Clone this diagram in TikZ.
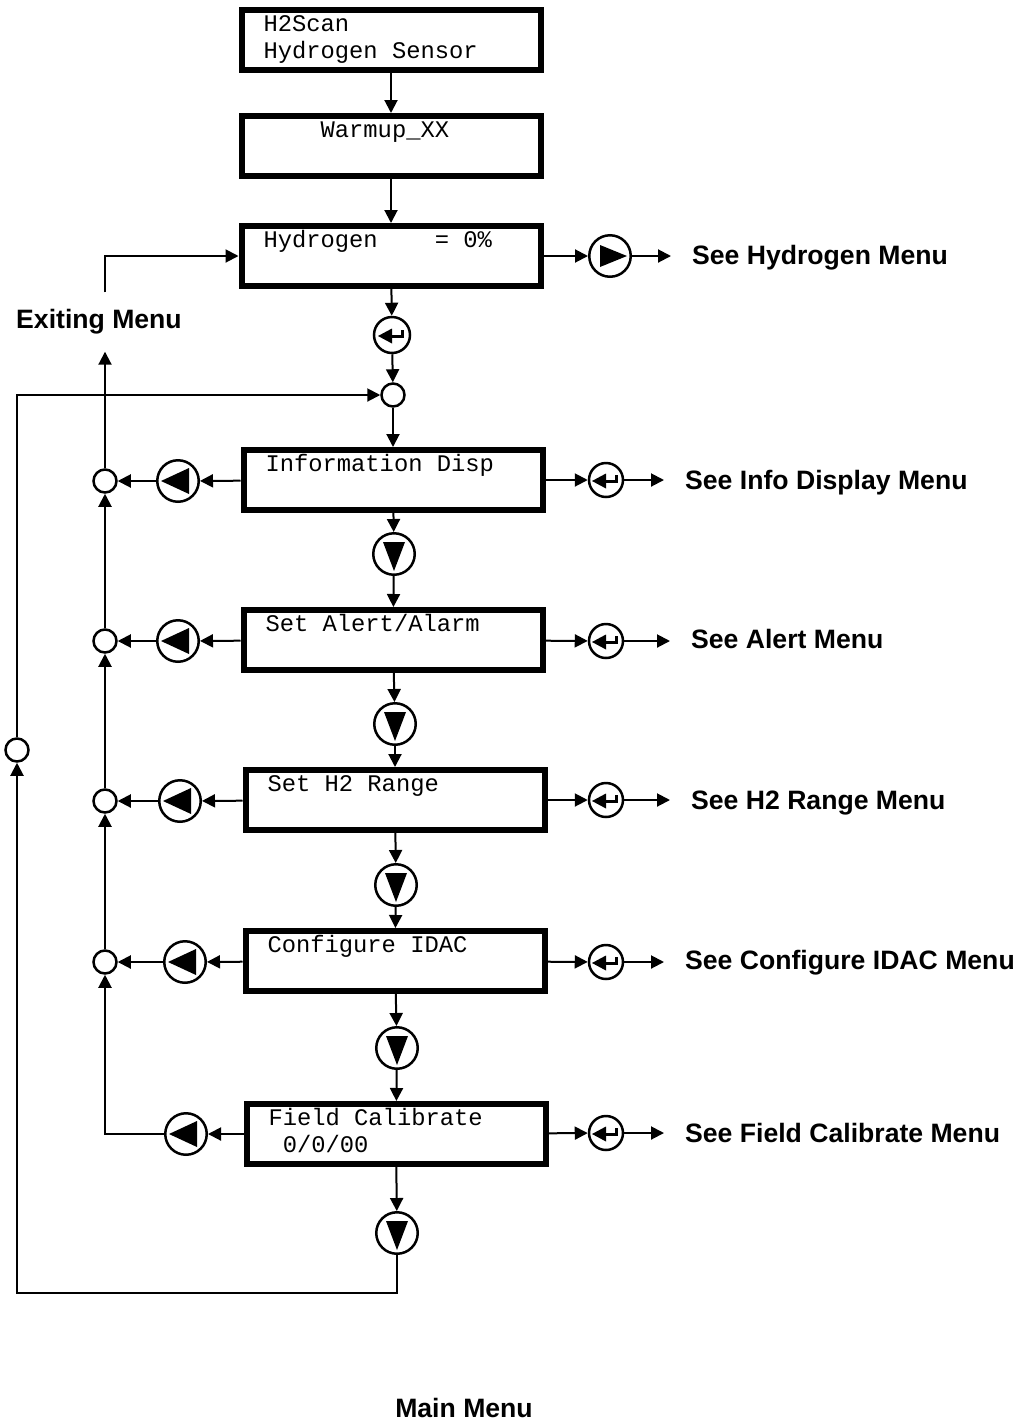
\documentclass[tikz,border=0pt]{standalone}
\usepackage{fontspec}
\usetikzlibrary{arrows.meta}
\newfontfamily\lcdfamily{Liberation Mono}
\newfontfamily\lblfamily{Liberation Sans}
\newcommand{\lcdfont}{\lcdfamily\fontsize{23.8}{27}\selectfont\spaceskip=0.6em\xspaceskip=0.6em\relax}
\newcommand{\lblfont}{\lblfamily\bfseries\fontsize{26.6}{30}\selectfont}

\begin{document}
\begin{tikzpicture}[x=1pt,y=-1pt,
  arr/.style={line width=2pt,-{Triangle[length=13pt,width=13pt]}},
  lcd/.style={draw,line width=6pt,minimum width=299pt,minimum height=60pt,text width=255pt,
    inner xsep=22pt,inner ysep=0pt,align=left,font=\lcdfont,execute at begin node=\lcdfont},
  btn/.style={circle,draw,line width=2.5pt,inner sep=0pt,minimum size=41.5pt},
  junc/.style={btn,minimum size=23pt},
  dnbtn/.style={btn,path picture={\fill[shift={(path picture bounding box.center)}]
    (-11pt,12pt) -- (11pt,12pt) -- (0pt,-17pt) -- cycle;}},
  ltbtn/.style={btn,path picture={\fill[shift={(path picture bounding box.center)}]
    (-17pt,0pt) -- (11pt,13pt) -- (11pt,-13pt) -- cycle;}},
  rtbtn/.style={btn,path picture={\fill[shift={(path picture bounding box.center)}]
    (17pt,0pt) -- (-10pt,11pt) -- (-10pt,-11pt) -- cycle;}},
  entbtn/.style={btn,minimum size=34pt,path picture={\begin{scope}[shift={(path picture bounding box.center)}]
    \fill (-14pt,-1pt) -- (0pt,6.5pt) -- (0pt,-8.5pt) -- cycle;
    \draw[line width=3pt] (-1pt,-1.5pt) -- (10pt,-1.5pt) -- (10pt,5pt);\end{scope}}},
  lbl/.style={font=\lblfont,inner sep=0pt,anchor=base west}]
\useasboundingbox (0,0) rectangle (1021,1422);

% display column
\node[lcd] (scan) at (391,40) {H2Scan\strut\\Hydrogen Sensor\strut};
\node[lcd] (warm) at (391,146) {\mbox{\ \ \ \ }Warmup\_XX\strut\\\strut};
\node[lcd] (hyd) at (391,256) {Hydrogen\ \ \ \ =\ 0\%\strut\\\strut};
\node[entbtn,minimum size=36pt] (ent0) at (392,335) {};
\node[junc] (j0) at (393,395) {};
\node[lcd] (info) at (393,480) {Information Disp\strut\\\strut};
\node[dnbtn] (dn1) at (394,554) {};
\node[lcd] (alert) at (393,640) {Set Alert/Alarm\strut\\\strut};
\node[dnbtn] (dn2) at (395,724) {};
\node[lcd] (range) at (395,800) {Set H2 Range\strut\\\strut};
\node[dnbtn] (dn3) at (396,885) {};
\node[lcd] (idac) at (395,961) {Configure IDAC\strut\\\strut};
\node[dnbtn] (dn4) at (397,1048) {};
\node[lcd] (fcal) at (396,1134) {Field Calibrate\strut\\\mbox{\ }0/0/00\strut};
\node[dnbtn] (dn5) at (397,1233) {};

% sub menus on the right
\node[rtbtn] (hbtn) at (610,256) {};
\node[entbtn] (ibtn) at (606,480) {};
\node[entbtn] (abtn) at (606,641) {};
\node[entbtn] (rbtn) at (606,800) {};
\node[entbtn] (cbtn) at (606,962) {};
\node[entbtn] (fbtn) at (606,1133) {};
\node[lbl] (hlbl) at (692,264) {See Hydrogen Menu};
\node[lbl] (ilbl) at (685,489) {See Info Display Menu};
\node[lbl] (albl) at (691,648) {See Alert Menu};
\node[lbl] (rlbl) at (691,809) {See H2 Range Menu};
\node[lbl] (clbl) at (685,969) {See Configure IDAC Menu};
\node[lbl] (flbl) at (685,1142) {See Field Calibrate Menu};

% back keys on the left
\node[ltbtn] (ib) at (178,481) {};
\node[ltbtn] (ab) at (178,641) {};
\node[ltbtn] (rb) at (180,801) {};
\node[ltbtn] (cb) at (185,962) {};
\node[ltbtn] (fb) at (186,1134) {};
\node[junc] (ij) at (105,481) {};
\node[junc] (aj) at (105,641) {};
\node[junc] (rj) at (105,801) {};
\node[junc] (cj) at (105,962) {};
\node[junc] (jloop) at (17,750) {};
\node[font=\lblfont,inner sep=0pt,minimum height=59pt] (exit) at (99,322) {Exiting Menu};
\node[font=\lblfont,anchor=base] (main) at (464,1417) {Main Menu};

% down the column
\draw[arr] (scan) -- (warm);
\draw[arr] (warm) -- (hyd);
\draw[arr] (hyd) -- (ent0);
\draw[arr] (ent0) -- (j0);
\draw[arr] (j0) -- (info);
\draw[arr] (info) -- (dn1);
\draw[arr] (dn1) -- (alert);
\draw[arr] (alert) -- (dn2);
\draw[arr] (dn2) -- (range);
\draw[arr] (range) -- (dn3);
\draw[arr] (dn3) -- (idac);
\draw[arr] (idac) -- (dn4);
\draw[arr] (dn4) -- (fcal);
\draw[arr] (fcal) -- (dn5);
\draw[arr] (dn5) -- ++(0,60) -| (jloop);
\draw[arr] (jloop) |- (j0);

% right side
\draw[arr] (hyd) -- (hbtn);
\draw[arr] (info) -- (ibtn);
\draw[arr] (alert) -- (abtn);
\draw[arr] (range) -- (rbtn);
\draw[arr] (idac) -- (cbtn);
\draw[arr] (fcal) -- (fbtn);
\draw[arr,shorten >=21pt] (hbtn) -- (hbtn -| hlbl.west);
\draw[arr,shorten >=21pt] (ibtn) -- (ibtn -| ilbl.west);
\draw[arr,shorten >=21pt] (abtn) -- (abtn -| albl.west);
\draw[arr,shorten >=21pt] (rbtn) -- (rbtn -| rlbl.west);
\draw[arr,shorten >=21pt] (cbtn) -- (cbtn -| clbl.west);
\draw[arr,shorten >=21pt] (fbtn) -- (fbtn -| flbl.west);

% left side
\draw[arr] (info) -- (ib);
\draw[arr] (ib) -- (ij);
\draw[arr] (alert) -- (ab);
\draw[arr] (ab) -- (aj);
\draw[arr] (range) -- (rb);
\draw[arr] (rb) -- (rj);
\draw[arr] (idac) -- (cb);
\draw[arr] (cb) -- (cj);
\draw[arr] (fcal) -- (fb);
\draw[arr] (fb) -| (cj);
\draw[arr] (cj) -- (rj);
\draw[arr] (rj) -- (aj);
\draw[arr] (aj) -- (ij);
\draw[arr] (ij) -- (ij |- exit.south);
\draw[arr] (ij |- exit.north) |- (hyd);
\end{tikzpicture}
\end{document}
